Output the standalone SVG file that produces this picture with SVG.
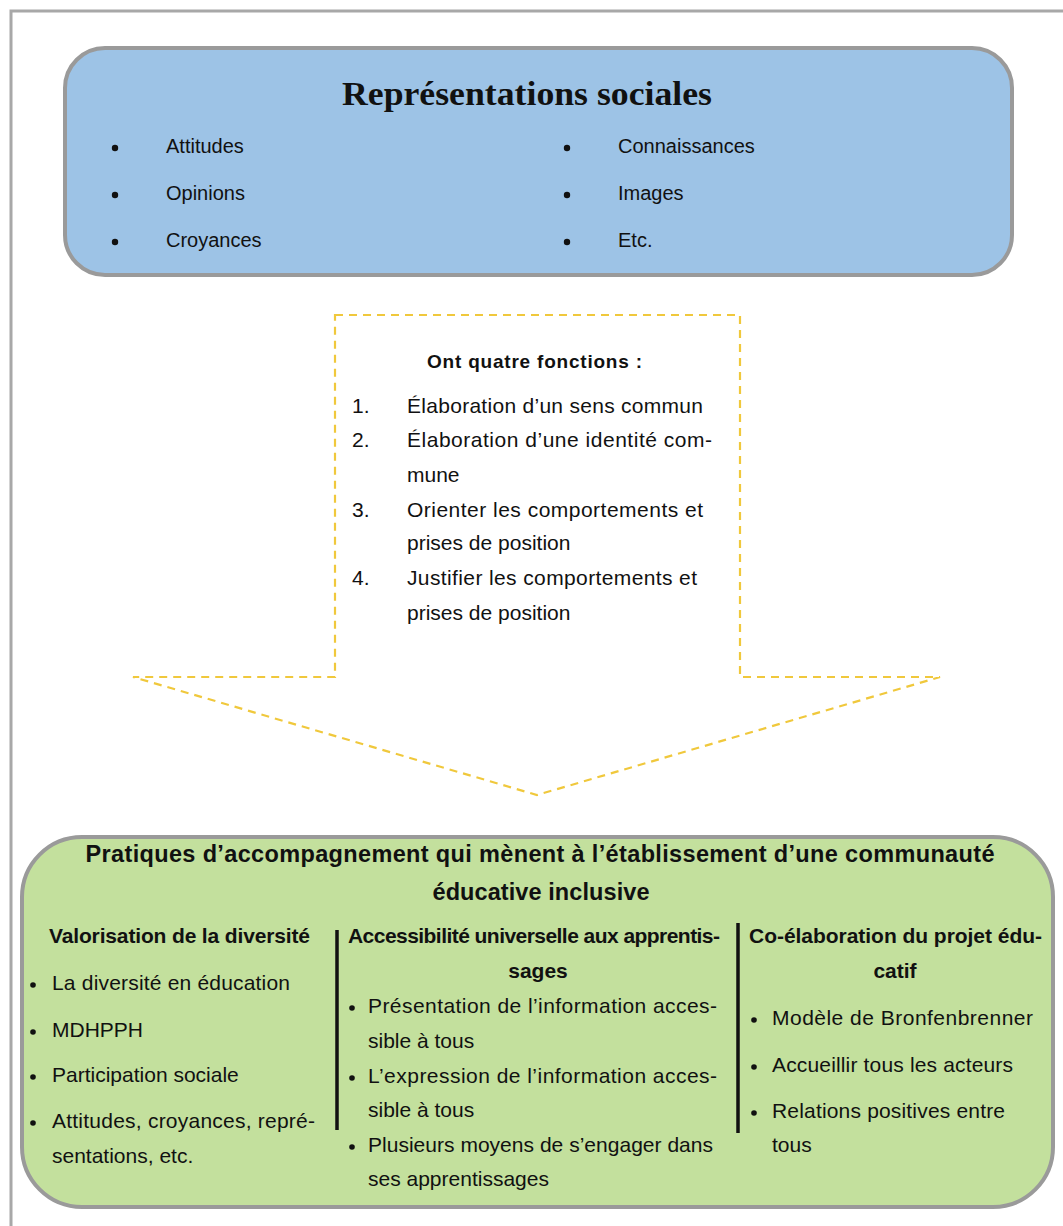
<svg xmlns="http://www.w3.org/2000/svg" width="1063" height="1226" viewBox="0 0 1063 1226">
<style>
.t{font-family:"Liberation Sans",Arial,sans-serif;fill:#111;}
.b{font-weight:bold;}
.item{font-size:20px;}
.fn{font-size:21px;}
.col{font-size:21px;}
.hd{font-size:21px;font-weight:bold;}
.dot{fill:#111;}
</style>
<rect x="0" y="0" width="1063" height="1226" fill="#ffffff"/>
<rect x="11" y="11" width="1080" height="1240" fill="none" stroke="#a8a8a8" stroke-width="3"/>

<g id="connectors">
<path d="M335,315 L740,315 L740,677 L940,677 L537,795 L133,677 L335,677 Z" fill="none" stroke="#f0c83c" stroke-width="2.2" stroke-dasharray="8 6"/>
</g>

<g id="representations">
<rect x="65" y="48" width="947" height="227" rx="40" ry="40" fill="#9dc3e6" stroke="#9a9a9a" stroke-width="4"/>
<text x="527" y="105" text-anchor="middle" font-family="Liberation Serif,serif" font-weight="bold" font-size="33" fill="#111" textLength="370" lengthAdjust="spacingAndGlyphs">Représentations sociales</text>
<circle class="dot" cx="115" cy="148" r="3.2"/>
<circle class="dot" cx="115" cy="195" r="3.2"/>
<circle class="dot" cx="115" cy="242" r="3.2"/>
<circle class="dot" cx="567" cy="148" r="3.2"/>
<circle class="dot" cx="567" cy="195" r="3.2"/>
<circle class="dot" cx="567" cy="242" r="3.2"/>
<text class="t item" x="166" y="153">Attitudes</text>
<text class="t item" x="166" y="200">Opinions</text>
<text class="t item" x="166" y="247">Croyances</text>
<text class="t item" x="618" y="153">Connaissances</text>
<text class="t item" x="618" y="200">Images</text>
<text class="t item" x="618" y="247">Etc.</text>
</g>

<g id="fonctions">
<text class="t b" x="427" y="368" font-size="19" textLength="215">Ont quatre fonctions :</text>
<text class="t fn" x="352" y="413">1.</text>
<text class="t fn" x="407" y="413" textLength="296">Élaboration d’un sens commun</text>
<text class="t fn" x="352" y="447">2.</text>
<text class="t fn" x="407" y="447" textLength="305">Élaboration d’une identité com-</text>
<text class="t fn" x="407" y="482">mune</text>
<text class="t fn" x="352" y="517">3.</text>
<text class="t fn" x="407" y="517" textLength="296">Orienter les comportements et</text>
<text class="t fn" x="407" y="550">prises de position</text>
<text class="t fn" x="352" y="585">4.</text>
<text class="t fn" x="407" y="585" textLength="290">Justifier les comportements et</text>
<text class="t fn" x="407" y="620">prises de position</text>
</g>

<g id="pratiques">
<rect x="22" y="837" width="1031" height="370" rx="60" ry="60" fill="#c3e09d" stroke="#9a9a9a" stroke-width="4"/>
<text class="t b" x="540" y="862" font-size="23.5" text-anchor="middle" textLength="909">Pratiques d’accompagnement qui mènent à l’établissement d’une communauté</text>
<text class="t b" x="541" y="900" font-size="23.5" text-anchor="middle" textLength="217">éducative inclusive</text>
</g>

<g id="col-diversite">
<text class="t hd" x="49" y="943" textLength="261">Valorisation de la diversité</text>
<circle class="dot" cx="33" cy="985" r="2.8"/>
<circle class="dot" cx="33" cy="1032" r="2.8"/>
<circle class="dot" cx="33" cy="1077" r="2.8"/>
<circle class="dot" cx="33" cy="1123" r="2.8"/>
<text class="t col" x="52" y="990" textLength="238">La diversité en éducation</text>
<text class="t col" x="52" y="1037">MDHPPH</text>
<text class="t col" x="52" y="1082">Participation sociale</text>
<text class="t col" x="52" y="1128" textLength="263">Attitudes, croyances, repré-</text>
<text class="t col" x="52" y="1163">sentations, etc.</text>
</g>

<g id="col-accessibilite">
<line x1="337" y1="930" x2="337" y2="1130" stroke="#111" stroke-width="3.5"/>
<text class="t hd" x="348" y="943" textLength="372">Accessibilité universelle aux apprentis-</text>
<text class="t hd" x="538" y="978" text-anchor="middle">sages</text>
<circle class="dot" cx="352" cy="1008" r="2.8"/>
<circle class="dot" cx="352" cy="1078" r="2.8"/>
<circle class="dot" cx="352" cy="1147" r="2.8"/>
<text class="t col" x="368" y="1013" textLength="349">Présentation de l’information acces-</text>
<text class="t col" x="368" y="1048">sible à tous</text>
<text class="t col" x="368" y="1083" textLength="349">L’expression de l’information acces-</text>
<text class="t col" x="368" y="1117">sible à tous</text>
<text class="t col" x="368" y="1152" textLength="345">Plusieurs moyens de s’engager dans</text>
<text class="t col" x="368" y="1186">ses apprentissages</text>
</g>

<g id="col-coelaboration">
<line x1="738" y1="923" x2="738" y2="1133" stroke="#111" stroke-width="3.5"/>
<text class="t hd" x="749" y="943" textLength="293">Co-élaboration du projet édu-</text>
<text class="t hd" x="895" y="978" text-anchor="middle">catif</text>
<circle class="dot" cx="754" cy="1020" r="2.8"/>
<circle class="dot" cx="754" cy="1067" r="2.8"/>
<circle class="dot" cx="754" cy="1113" r="2.8"/>
<text class="t col" x="772" y="1025" textLength="261">Modèle de Bronfenbrenner</text>
<text class="t col" x="772" y="1072" textLength="241">Accueillir tous les acteurs</text>
<text class="t col" x="772" y="1118" textLength="233">Relations positives entre</text>
<text class="t col" x="772" y="1152">tous</text>
</g>
</svg>
